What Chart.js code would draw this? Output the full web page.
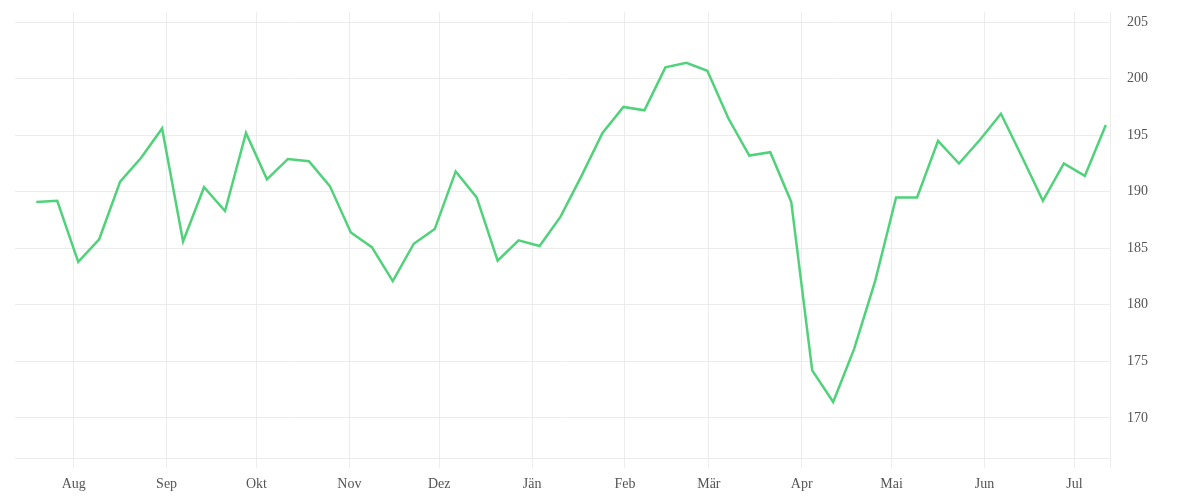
<!DOCTYPE html>
<html lang="de">
<head>
<meta charset="utf-8">
<title>Verlauf</title>
<script src="https://cdn.jsdelivr.net/npm/chart.js@4/dist/chart.umd.min.js"></script>
<style>
    html, body { margin: 0; padding: 0; background: #fff; }
    #wrap { width: 1200px; height: 500px; }
</style>
</head>
<body>
<div id="wrap"><canvas id="lineChart" width="1200" height="500"></canvas></div>
<script>
// one value per week, day 0 = first week
const weekDays = [
    0, 7, 14, 21, 28, 35, 42, 49, 56, 63, 70, 77, 84,
    91, 98, 105, 112, 119, 126, 133, 140, 147, 154, 161, 168, 175,
    182, 189, 196, 203, 210, 217, 224, 231, 238, 245, 252, 259, 266,
    273, 280, 287, 294, 301, 308, 315, 322, 329, 336, 343, 350, 357
];
const values = [
    189.1, 189.2, 183.8, 185.8, 190.9, 193.0, 195.6, 185.6, 190.4, 188.3, 195.2, 191.1, 192.9,
    192.7, 190.5, 186.4, 185.1, 182.1, 185.4, 186.7, 191.8, 189.5, 183.9, 185.7, 185.2, 187.8,
    191.4, 195.2, 197.5, 197.2, 201.0, 201.4, 200.7, 196.5, 193.2, 193.5, 189.1, 174.2, 171.4,
    176.1, 182.1, 189.5, 189.5, 194.5, 192.5, 194.6, 196.9, 193.1, 189.2, 192.5, 191.4, 195.9
];

// month starts, in days from the first week (weekly values sit at midday)
const monthDays = [12.5, 43.5, 73.5, 104.5, 134.5, 165.5, 196.5, 224.5, 255.5, 285.5, 316.5, 346.5];
const monthLabels = ['Aug', 'Sep', 'Okt', 'Nov', 'Dez', 'Jän', 'Feb', 'Mär', 'Apr', 'Mai', 'Jun', 'Jul'];
const yTicks = [170, 175, 180, 185, 190, 195, 200, 205];

const xMin = -7.1, xMax = 358.4;
const yMin = 166.45, yMax = 205.9;

document.addEventListener('DOMContentLoaded', function () {
    const canvas = document.getElementById('lineChart');
    const gridColor = '#ececec';
    const font = { family: '"Liberation Serif", "DejaVu Serif", serif', size: 14 };

    new Chart(canvas.getContext('2d'), {
        type: 'line',
        data: {
            datasets: [{
                data: weekDays.map((d, i) => ({ x: d, y: values[i] })),
                borderColor: '#50d27a',
                borderWidth: 2.5,
                pointRadius: 0,
                pointHoverRadius: 0,
                tension: 0,
                fill: false
            }]
        },
        options: {
            responsive: false,
            animation: false,
            layout: { padding: { left: 15, top: 12, right: 0, bottom: 0 } },
            plugins: {
                legend: { display: false },
                tooltip: { enabled: false }
            },
            scales: {
                x: {
                    type: 'linear',
                    min: xMin,
                    max: xMax,
                    afterBuildTicks: function (scale) {
                        scale.ticks = monthDays.concat([xMax]).map(v => ({ value: v }));
                    },
                    afterFit: function (scale) {
                        scale.height = 42;
                        scale.paddingLeft = 0;
                        scale.paddingRight = 0;
                    },
                    grid: { color: gridColor, tickLength: 10, drawTicks: true },
                    border: { color: gridColor },
                    ticks: {
                        autoSkip: false,
                        maxRotation: 0,
                        padding: 8,
                        color: '#555',
                        font: font,
                        callback: function (value, index) {
                            return monthLabels[index] || '';
                        }
                    }
                },
                y: {
                    position: 'right',
                    min: yMin,
                    max: yMax,
                    afterBuildTicks: function (scale) {
                        scale.ticks = yTicks.map(v => ({ value: v }));
                    },
                    afterFit: function (scale) {
                        scale.width = 90;
                        scale.paddingTop = 0;
                        scale.paddingBottom = 0;
                    },
                    grid: { color: gridColor, drawTicks: false },
                    border: { color: gridColor },
                    ticks: {
                        padding: 17,
                        color: '#555',
                        font: font
                    }
                }
            }
        }
    });
});
</script>
</body>
</html>
